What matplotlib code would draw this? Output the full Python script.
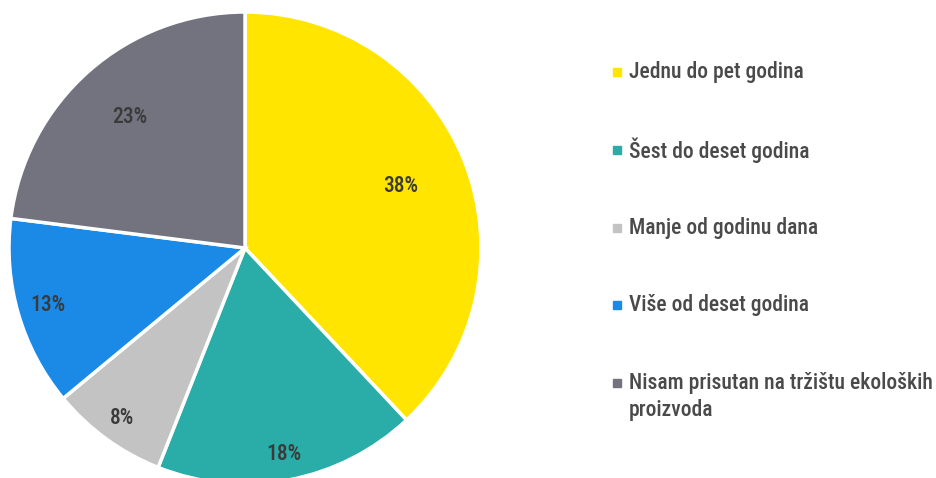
import numpy as np
import matplotlib
matplotlib.use("Agg")
import matplotlib.pyplot as plt
from matplotlib import font_manager

categories = ["Jednu do pet godina", "Šest do deset godina", "Manje od godinu dana",
              "Više od deset godina", "Nisam prisutan na tržištu ekoloških\nproizvoda"]
values = [38, 18, 8, 13, 23]
colors = ["#FFE500", "#2AADA8", "#C4C3C4", "#1B8AE6", "#73737F"]
label_dist = [0.71, 0.89, 0.89, 0.87, 0.74]

# look for a narrow font, the original uses a condensed face
fam, stretch = "DejaVu Sans", "condensed"
for f in font_manager.fontManager.ttflist:
    n = (f.name + " " + f.fname).lower()
    if "condensed" in n or "narrow" in n:
        fam, stretch = f.name, f.stretch
        if "roboto" in n or "liberation" in n:
            break
plt.rcParams["font.family"] = [fam, "DejaVu Sans"]
plt.rcParams["font.stretch"] = stretch
weight = 500

W, H = 937, 478
fig = plt.figure(figsize=(W / 100, H / 100), dpi=100)
cx, cy, r = 245, 248, 236
ax = fig.add_axes([(cx - r) / W, (H - cy - r) / H, 2 * r / W, 2 * r / H])
wedges, _ = ax.pie(values, colors=colors, startangle=90, counterclock=False,
                   wedgeprops=dict(edgecolor="white", linewidth=2.5))
ax.set_xlim(-1, 1)
ax.set_ylim(-1, 1)
ax.set_aspect("equal")

renderer = fig.canvas.get_renderer()


def width_at10(s):
    t = fig.text(0, 0, s, fontsize=10, fontstretch=stretch, fontweight=weight)
    w = t.get_window_extent(renderer).width
    t.remove()
    return w


# fit legend font to the widths in the original
fs = min(10 * 178 / width_at10(categories[0]),
         10 * 302 / width_at10("Nisam prisutan na tržištu ekoloških"))
pfs = min(10 * 38 / width_at10("23%"), fs)

for w, v, d in zip(wedges, values, label_dist):
    ang = np.deg2rad((w.theta1 + w.theta2) / 2)
    ax.text(d * np.cos(ang), d * np.sin(ang), f"{v}%", ha="center", va="center",
            fontsize=pfs, color="#3a3a3a", fontstretch=stretch, fontweight=weight)

ys = [72, 150, 228, 305, 383]
for cat, col, y in zip(categories, colors, ys):
    fig.patches.append(plt.Rectangle((613 / W, (H - y - 4) / H), 8 / W, 8 / H,
                                     transform=fig.transFigure, color=col))
    if "\n" in cat:
        fig.text(629 / W, (H - y + 11) / H, cat, ha="left", va="top",
                 fontsize=fs, color="#4a4a4a", linespacing=1.3,
                 fontstretch=stretch, fontweight=weight)
    else:
        fig.text(629 / W, (H - y) / H, cat, ha="left", va="center",
                 fontsize=fs, color="#4a4a4a", fontstretch=stretch, fontweight=weight)

fig.savefig("out.png", dpi=100)
